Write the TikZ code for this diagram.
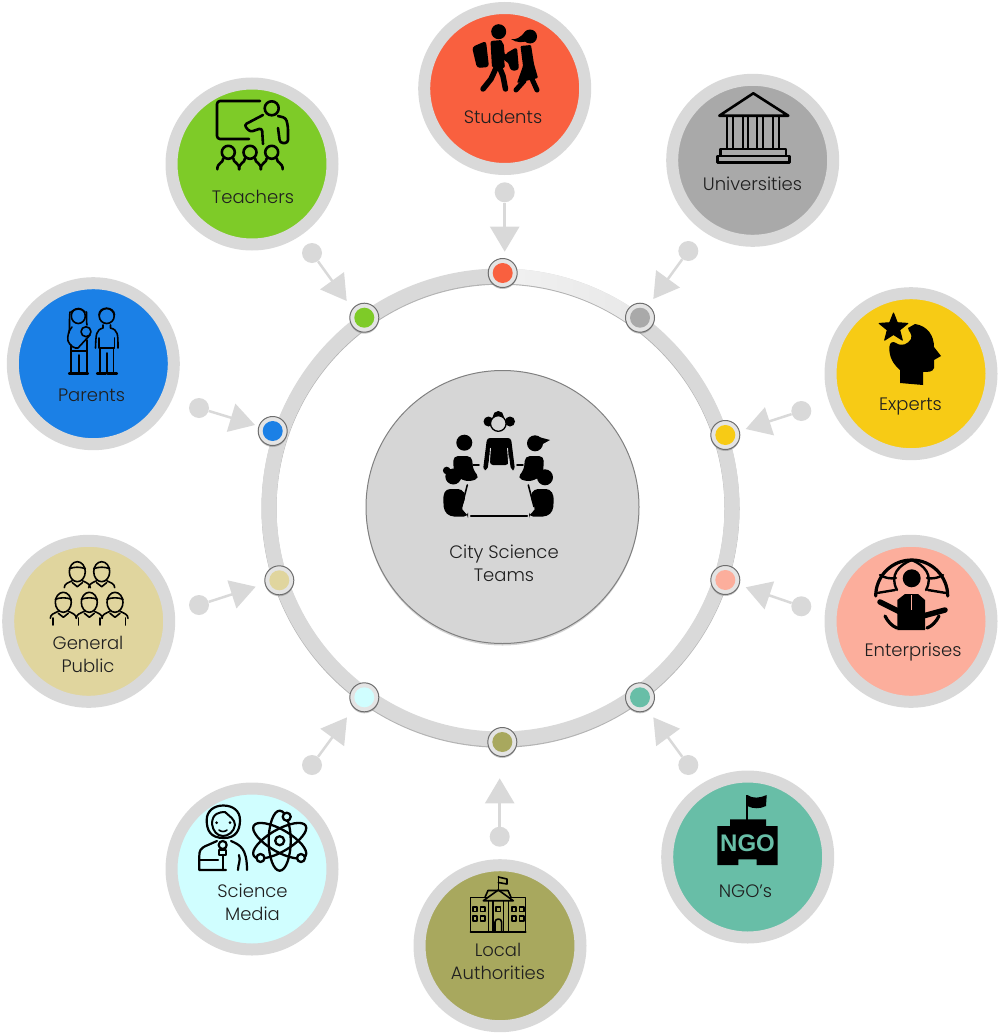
\documentclass[tikz,border=0pt]{standalone}
\usepackage{fontspec}
\setmainfont{Poppins}[UprightFont=* Light]
\newfontfamily\markfont{Liberation Sans}
\usetikzlibrary{arrows.meta}
\usetikzlibrary{shadows}
\definecolor{ringgrey}{HTML}{D9D9D9}
\definecolor{ringpale}{HTML}{F1F1F1}
\definecolor{ringedge}{HTML}{B4B4B4}
\definecolor{hubedge}{HTML}{6E6E6E}
\definecolor{hubgrey}{HTML}{E4E4E4}
\definecolor{studentred}{HTML}{F9603F}
\definecolor{teachergreen}{HTML}{7ECB28}
\definecolor{universitygrey}{HTML}{A9A9A9}
\definecolor{expertyellow}{HTML}{F7CB15}
\definecolor{enterprisesalmon}{HTML}{FCAE9C}
\definecolor{ngoteal}{HTML}{68BEA7}
\definecolor{localolive}{HTML}{A8A85E}
\definecolor{mediacyan}{HTML}{D0FEFF}
\definecolor{publiccream}{HTML}{E0D59E}
\definecolor{parentblue}{HTML}{1B80E6}
\definecolor{teamlight}{HTML}{D6D6D6}
\definecolor{teamdark}{HTML}{C8C8C8}
\definecolor{teamedge}{HTML}{D8D8D8}
\pgfdeclareradialshading{teamshade}{\pgfpointorigin}{color(0bp)=(teamlight);color(26bp)=(teamlight);color(36bp)=(teamdark);color(46bp)=(teamedge);color(50bp)=(teamedge)}
\begin{document}
\begin{tikzpicture}[x=1pt,y=-1pt]
\tikzset{disc/.style={circle,draw=ringgrey,line width=12pt,minimum size=161pt,inner sep=0pt}}
\tikzset{hubring/.style={circle,draw=hubedge,line width=1pt,fill=hubgrey,minimum size=29pt,inner sep=0pt,drop shadow={shadow xshift=0pt,shadow yshift=-1.5pt,opacity=.45}}}
\tikzset{hubcore/.style={circle,minimum size=20pt,inner sep=0pt}}
\tikzset{stub/.style={circle,fill=ringgrey,minimum size=20pt,inner sep=0pt}}
\tikzset{feed/.style={draw=ringgrey,line width=2.5pt,-{Triangle[length=25pt,width=29pt]}}}
\tikzset{caption/.style={align=center,text=black!88,font=\fontsize{18}{23}\selectfont,inner sep=0pt}}
\tikzset{outline/.style={draw=black,line width=2.6pt,line cap=round,line join=round,fill=none}}
\tikzset{thinoutline/.style={outline,line width=1.6pt}}
\tikzset{limb/.style={draw=black,line cap=round,line join=round,line width=5.5pt}}
\tikzset{publicperson/.pic={
        \draw[thinoutline] (0,0) ellipse[x radius=8,y radius=10];
        \draw[thinoutline] (-8,-3) .. controls (-3,-5) and (3,-5) .. (8,-3);
        \draw[thinoutline] (-13,16) .. controls (-13,12) and (-9,11) .. (-5,9);
        \draw[thinoutline] (13,16) .. controls (13,12) and (9,11) .. (5,9);
        \draw[thinoutline] (-5,11) -- (0,15) -- (5,11);
}}
\tikzset{pupil/.pic={
        \draw[outline] (0,0) circle[radius=6.5];
        \draw[outline] (-11,17) .. controls (-11,10) and (-5,11) .. (-5,6);
        \draw[outline] (5,6) .. controls (5,11) and (11,10) .. (11,17);
}}
\useasboundingbox (0,0) rectangle (1001,1036);
        \node[circle,draw=ringedge,line width=15pt,minimum size=463pt,inner sep=0pt] (ringshade) at (500.5,508.7) {};
        \node[circle,draw=ringgrey,line width=15pt,minimum size=463pt,inner sep=0pt] (ring) at (500.5,507.5) {};
        \shade[left color=ringpale,middle color=white!96!black,right color=ringgrey!60!white] (500.5,268.5) arc[start angle=-90,end angle=-54,radius=239] -- (632.2,326.3) arc[start angle=-54,end angle=-90,radius=224] -- cycle;
        \node[circle,draw=black!50,line width=1pt,shade,shading=teamshade,minimum size=273pt,inner sep=0pt,drop shadow={shadow xshift=0pt,shadow yshift=-2pt,opacity=.35}] (team) at (502.5,507) {};
        \node[caption] (capteam) at (504,563) {City Science\\Teams};

        \node[disc,fill=studentred] (students) at (504.7,88.5) {};
        \node[caption] (capstudents) at (503,117) {Students};
        \node[hubring] (hubstudents) at (502.7,273) {};
        \node[hubcore,fill=studentred] (corestudents) at (hubstudents) {};
        \node[stub] (stubstudents) at (504.7,192.3) {};
        \coordinate (tipstudents) at (504.7,251.7);
            \path[feed] (stubstudents) -- (tipstudents);

        \node[disc,fill=teachergreen] (teachers) at (252,164) {};
        \node[caption] (capteachers) at (253,196.5) {Teachers};
        \node[hubring] (hubteachers) at (364.3,317.7) {};
        \node[hubcore,fill=teachergreen] (coreteachers) at (hubteachers) {};
        \node[stub] (stubteachers) at (312,253) {};
        \coordinate (tipteachers) at (346.7,301);
            \path[feed] (stubteachers) -- (tipteachers);

        \node[disc,fill=universitygrey] (universities) at (752.7,160.3) {};
        \node[caption] (capuniversities) at (752.5,183.5) {Universities};
        \node[hubring] (hubuniversities) at (640,317.7) {};
        \node[hubcore,fill=universitygrey] (coreuniversities) at (hubuniversities) {};
        \node[stub] (stubuniversities) at (688.3,251) {};
        \coordinate (tipuniversities) at (653.3,299);
            \path[feed] (stubuniversities) -- (tipuniversities);

        \node[disc,fill=expertyellow] (experts) at (911,373.7) {};
        \node[caption] (capexperts) at (910.5,407) {Experts};
        \node[hubring] (hubexperts) at (725.3,435) {};
        \node[hubcore,fill=expertyellow] (coreexperts) at (hubexperts) {};
        \node[stub] (stubexperts) at (801.3,411) {};
        \coordinate (tipexperts) at (745.7,429);
            \path[feed] (stubexperts) -- (tipexperts);

        \node[disc,fill=enterprisesalmon] (enterprises) at (911,621.3) {};
        \node[caption] (capenterprises) at (913,652) {Enterprises};
        \node[hubring] (hubenterprises) at (725.3,580) {};
        \node[hubcore,fill=enterprisesalmon] (coreenterprises) at (hubenterprises) {};
        \node[stub] (stubenterprises) at (801.3,606.3) {};
        \coordinate (tipenterprises) at (745.7,587.3);
            \path[feed] (stubenterprises) -- (tipenterprises);

        \node[disc,fill=ngoteal] (ngos) at (747.7,857) {};
        \node[caption] (capngos) at (745.5,891.5) {NGO's};
        \node[hubring] (hubngos) at (640,697.3) {};
        \node[hubcore,fill=ngoteal] (corengos) at (hubngos) {};
        \node[stub] (stubngos) at (688.3,765) {};
        \coordinate (tipngos) at (653.3,717.3);
            \path[feed] (stubngos) -- (tipngos);

        \node[disc,fill=localolive] (authorities) at (500,945.7) {};
        \node[caption] (capauthorities) at (498,961.5) {Local\\Authorities};
        \node[hubring] (hubauthorities) at (502.3,742) {};
        \node[hubcore,fill=localolive] (coreauthorities) at (hubauthorities) {};
        \node[stub] (stubauthorities) at (499.7,836.7) {};
        \coordinate (tipauthorities) at (499.7,778.3);
            \path[feed] (stubauthorities) -- (tipauthorities);

        \node[disc,fill=mediacyan] (media) at (252,869) {};
        \node[caption] (capmedia) at (252.5,902.5) {Science\\Media};
        \node[hubring] (hubmedia) at (364.3,697.3) {};
        \node[hubcore,fill=mediacyan] (coremedia) at (hubmedia) {};
        \node[stub] (stubmedia) at (312,765) {};
        \coordinate (tipmedia) at (347,717.3);
            \path[feed] (stubmedia) -- (tipmedia);

        \node[disc,fill=publiccream] (public) at (88.7,621.3) {};
        \node[caption] (cappublic) at (88,654.5) {General\\Public};
        \node[hubring] (hubpublic) at (279.3,580.3) {};
        \node[hubcore,fill=publiccream] (corepublic) at (hubpublic) {};
        \node[stub] (stubpublic) at (199,605) {};
        \coordinate (tippublic) at (255.7,586.7);
            \path[feed] (stubpublic) -- (tippublic);

        \node[disc,fill=parentblue] (parents) at (93.3,363.7) {};
        \node[caption] (capparents) at (91.5,395.5) {Parents};
        \node[hubring] (hubparents) at (272.7,431) {};
        \node[hubcore,fill=parentblue] (coreparents) at (hubparents) {};
        \node[stub] (stubparents) at (199,408) {};
        \coordinate (tipparents) at (255,425);
            \path[feed] (stubparents) -- (tipparents);

        \fill (498.3,422) circle[radius=5.5];
        \fill (488.5,421.5) circle[radius=5];
        \fill (510,421.5) circle[radius=5];
        \fill (498.3,416.5) circle[radius=5.5];
        \fill[teamlight,draw=black,line width=1.3pt] (498.3,423.5) circle[radius=7.8];
        \fill[rounded corners=3] (487,438) -- (511,438) -- (515,470) -- (511,470) -- (508.5,452) -- (508.5,465) -- (490,465) -- (490,452) -- (487.5,470) -- (483,470) -- cycle;
        \draw[teamlight,line width=.9pt] (490.5,448) -- (489,468);
        \draw[teamlight,line width=.9pt] (507.5,448) -- (509,468);
        \fill (464.3,442.7) circle[radius=8];
        \fill[rounded corners=5] (454,476) -- (453,456) -- (472,456) -- (473,470) -- (480,478) -- (468,482) -- cycle;
        \fill (535,443.3) circle[radius=8];
        \fill (535,436) -- (550,440) -- (541,445) -- cycle;
        \fill[rounded corners=5] (543,476) -- (544,456) -- (525,456) -- (524,470) -- (517,478) -- (529,482) -- cycle;
        \draw[thinoutline] (473,465) -- (479,465);
        \draw[thinoutline] (517,465) -- (523,465);
        \fill (453.3,476.5) circle[radius=8];
        \fill (446.7,470.5) circle[radius=3.8];
        \fill[rounded corners=4] (446,489) -- (462,489) -- (466,496) -- (461,510) -- (468,514) -- (468,516.5) -- (450,516.5) -- (444,511) -- (443,496) -- cycle;
        \fill (545,477.3) circle[radius=8];
        \fill[rounded corners=4] (550,489) -- (534,489) -- (530,496) -- (536,510) -- (529,514) -- (529,516.5) -- (547,516.5) -- (553,511) -- (554,496) -- cycle;
        \draw[thinoutline] (470.7,515.7) -- (527.3,515.7);
        \draw[thinoutline] (467.3,485) -- (461.7,506.7);
        \draw[thinoutline] (528.3,485) -- (534,506.7);

        \fill (498.7,31.7) circle[radius=7.5];
        \fill[rounded corners=3] (472,47) -- (486,41) -- (489,67) -- (477,68) -- cycle;
        \fill[rounded corners=2] (490.5,41) -- (502,40) -- (505,68) -- (492,68) -- cycle;
        \draw[limb] (501,45) -- (502,55) -- (510,61);
        \draw[limb] (497,66) -- (491,79) -- (483,89);
        \draw[limb] (499,66) -- (503,76) -- (505.5,89);
        \fill (530,36.5) circle[radius=7];
        \fill (526,31) .. controls (520,38) and (516,40) .. (511,39) .. controls (516,43) and (524,43) .. (530,40) -- cycle;
        \fill[rounded corners=3] (505,54) -- (517,47) -- (519,70) -- (511,71) -- cycle;
        \fill[rounded corners=1] (520.5,46) -- (531,45) -- (534,64) -- (538,78) -- (517,83) -- (523,66) -- cycle;
        \draw[limb,line width=5pt] (524,81) -- (516,90);
        \draw[limb,line width=5pt] (532,79) -- (537,90);

        \draw[outline,rounded corners=3] (260,101) -- (217,101) -- (217,139) -- (249,139);
        \draw[outline] (271.7,108.3) circle[radius=7];
        \draw[outline,rounded corners=3] (263,115) -- (244,125) -- (250,132) -- (262,128) -- (263,144);
        \draw[outline,rounded corners=3] (278,116) -- (286,118) -- (288,127) -- (288,143) -- (280,143) -- (278,128);
        \pic at (228.3,152.3) {pupil};
        \pic at (250,152.3) {pupil};
        \pic at (271.7,152.3) {pupil};

        \draw[outline] (753.3,93.3) -- (719.3,115.7) -- (788.3,115.7) -- cycle;
        \draw[outline,line width=2.2pt] (726.7,116) -- (726.7,148);
        \draw[outline,line width=2.2pt] (733.3,116) -- (733.3,148);
        \draw[outline,line width=2.2pt] (742.7,116) -- (742.7,148);
        \draw[outline,line width=2.2pt] (748.3,116) -- (748.3,148);
        \draw[outline,line width=2.2pt] (757.3,116) -- (757.3,148);
        \draw[outline,line width=2.2pt] (763.3,116) -- (763.3,148);
        \draw[outline,line width=2.2pt] (772.7,116) -- (772.7,148);
        \draw[outline,line width=2.2pt] (779.3,116) -- (779.3,148);
        \draw[outline] (720.7,149) rectangle (786,156);
        \draw[outline] (717.3,156) rectangle (789.3,162.7);

        \fill[draw=black,line width=1pt,line join=round] (893.5,313) -- (897.3,322.7) -- (907.8,323.4) -- (899.7,330) -- (902.3,340.1) -- (893.5,334.5) -- (884.7,340.1) -- (887.3,330) -- (879.2,323.4) -- (889.7,322.7) -- cycle;
        \fill (915,324) .. controls (928,326) and (934,336) .. (934,347) -- (941,356) -- (934,360) -- (934,368) .. controls (933,372) and (928,372) .. (923,372) -- (923,385) -- (900,383) -- (900,370) .. controls (893,364) and (889,357) .. (889.3,347) .. controls (890,342) and (893,341) .. (896,343) .. controls (902,347) and (908,344) .. (911,339) .. controls (913,334) and (908,331) .. (908,328) -- cycle;

        \draw[outline,line width=3.2pt] (875.7,596) arc[start angle=180,end angle=360,radius=36];
        \draw[outline,line width=2.4pt] (877,593) -- (895,590);
        \draw[outline,line width=2.4pt] (946,593) -- (928,590);
        \draw[outline,line width=2.4pt] (897,590) .. controls (889,575) and (899,565) .. (911.7,560);
        \draw[outline,line width=2.4pt] (926,590) .. controls (934,575) and (924,565) .. (911.7,560);
        \draw[outline,line width=2.4pt] (880,575) .. controls (885,578) and (890,579) .. (896,578);
        \draw[outline,line width=2.4pt] (943,575) .. controls (938,578) and (933,579) .. (927,578);
        \draw[outline,line width=3.2pt] (885,616) .. controls (888,622) and (892,626) .. (897,628);
        \draw[outline,line width=3.2pt] (939,616) .. controls (936,622) and (932,626) .. (927,628);
        \fill (911.7,578.3) circle[radius=9];
        \fill (897.3,630) -- (925,630) -- (925,600) -- (918,594) -- (905,594) -- (897.3,600) -- cycle;
        \draw[limb] (900,612) -- (880,602);
        \draw[limb] (923,616) -- (945,610);
        \draw[enterprisesalmon,line width=1pt] (911.7,595) -- (911.7,610);

        \fill (746.3,795) rectangle (748.3,820);
        \fill (747.3,795) .. controls (753,799) and (760,798) .. (766.7,795) -- (766,806) .. controls (760,809) and (753,809) .. (747.3,806) -- cycle;
        \fill (730,819.3) -- (766,819.3) -- (766,826) -- (777.7,826) -- (777.7,865) -- (756.7,865) -- (756.7,859.3) -- (738.3,859.3) -- (738.3,865) -- (717.3,865) -- (717.3,826) -- (730,826) -- cycle;
        \node[text=ngoteal,inner sep=0pt,font=\markfont\bfseries\fontsize{24}{24}\selectfont] (ngomark) at (747.5,843) {NGO};

        \draw[thinoutline,line width=1.5pt] (470.7,897.3) rectangle (525.7,931.7);
        \draw[outline,line width=2pt] (470.7,931.7) -- (525.7,931.7);
        \draw[thinoutline] (498.3,890) -- (498.3,876.7);
        \draw[thinoutline] (498.3,877) -- (507,879) -- (507,884) -- (498.3,882.5);
        \draw[thinoutline,fill=localolive] (483.3,900.7) -- (498.3,890) -- (513.3,900.7) -- cycle;
        \draw[thinoutline] (485,897.3) -- (488,890.5) -- (508,890.5) -- (511,897.3);
        \draw[thinoutline] (488.3,901) -- (488.3,931);
        \draw[thinoutline] (493,901) -- (493,931);
        \draw[thinoutline] (503.6,901) -- (503.6,931);
        \draw[thinoutline] (508.3,901) -- (508.3,931);
        \draw[thinoutline] (472.7,906.7) rectangle (477,911.5);
        \draw[thinoutline] (480.5,906.7) rectangle (484.8,911.5);
        \draw[thinoutline] (472.7,916) rectangle (477,920.8);
        \draw[thinoutline] (480.5,916) rectangle (484.8,920.8);
        \draw[thinoutline] (511.7,906.7) rectangle (516,911.5);
        \draw[thinoutline] (519.5,906.7) rectangle (523.8,911.5);
        \draw[thinoutline] (511.7,916) rectangle (516,920.8);
        \draw[thinoutline] (519.5,916) rectangle (523.8,920.8);
        \draw[thinoutline] (496.2,907) rectangle (500.4,911.5);
        \draw[thinoutline] (495,931) -- (495,922) .. controls (495,918) and (501.6,918) .. (501.6,922) -- (501.6,931);

        \draw[outline,line width=2.2pt] (224,838) .. controls (210,838) and (206.7,830) .. (206.7,820) .. controls (206.7,811) and (214,805.5) .. (223.3,805.5) .. controls (233,805.5) and (240,811) .. (240,820) .. controls (240,830) and (236,838) .. (224,838);
        \draw[outline,line width=2pt] (212,824) .. controls (212,813) and (220,812) .. (225,812) .. controls (229,816) and (235,819) .. (235,825) .. controls (234,832) and (228,836) .. (223,836) .. controls (217,836) and (213,831) .. (212,824);
        \fill (216.7,822.7) circle[radius=1.5];
        \fill (230,822.7) circle[radius=1.5];
        \draw[thinoutline] (219,830) .. controls (221,832) and (225,832) .. (227,830);
        \draw[outline,line width=2.2pt] (217,841) -- (208,845) .. controls (200,848) and (199.3,851) .. (199.3,856) -- (199.3,870) -- (226,870);
        \draw[outline,line width=2.2pt] (231,841) .. controls (240,845) and (247,848) .. (247,870);
        \draw[outline,line width=2.2pt] (200,860) -- (218,860);
        \draw[outline,line width=2.2pt] (238,870) .. controls (238,864) and (241,861) .. (239,855);
        \draw[outline,line width=2.2pt] (222.7,845) circle[radius=4];
        \draw[outline,line width=2.2pt] (219,850) rectangle (226,855);
        \draw[outline,line width=2.2pt] (222.7,855) -- (222.7,870);
        \draw[outline,line width=2.3pt] (279.7,840.7) circle[radius=4.5];
        \draw[outline,line width=2.3pt,rotate around={90:(279.7,840.7)}] (279.7,840.7) ellipse[x radius=30,y radius=11];
        \draw[outline,line width=2.3pt,rotate around={30:(279.7,840.7)}] (279.7,840.7) ellipse[x radius=30,y radius=11];
        \draw[outline,line width=2.3pt,rotate around={-30:(279.7,840.7)}] (279.7,840.7) ellipse[x radius=30,y radius=11];
        \draw[outline,line width=2.3pt,fill=mediacyan] (286.7,816.7) circle[radius=4];
        \draw[outline,line width=2.3pt,fill=mediacyan] (260.5,858) circle[radius=4];
        \draw[outline,line width=2.3pt,fill=mediacyan] (301,858) circle[radius=4];

        \pic at (77.3,571.7) {publicperson};
        \pic at (101.7,571.7) {publicperson};
        \pic at (63.3,602.3) {publicperson};
        \pic at (89.3,602.3) {publicperson};
        \pic at (115,602.3) {publicperson};
        \draw[thinoutline] (53,618) -- (53,625);
        \draw[thinoutline] (78.5,618) -- (78.5,625);
        \draw[thinoutline] (100,618) -- (100,625);
        \draw[thinoutline] (125.5,618) -- (125.5,625);

        \draw[thinoutline,fill=none] (78.3,316) ellipse[x radius=7,y radius=7.5];
        \draw[thinoutline] (70,312) .. controls (69,320) and (70,327) .. (69,333);
        \draw[thinoutline] (86.5,312) .. controls (87,317) and (86,321) .. (87,325);
        \draw[thinoutline] (71,312) .. controls (75,308) and (82,308) .. (85,312);
        \draw[thinoutline] (72,327) .. controls (69,330) and (67,336) .. (68,341) .. controls (70,346) and (75,349) .. (78,348) -- (90,335);
        \draw[thinoutline] (86,331.7) circle[radius=5];
        \draw[thinoutline] (71,345) -- (71,373);
        \draw[thinoutline] (87,340) -- (87,373);
        \draw[thinoutline] (79,355) -- (79,373);
        \draw[thinoutline] (72,351) -- (87,351);
        \draw[outline,line width=2.2pt] (69,373.5) -- (79,373.5);
        \draw[outline,line width=2.2pt] (79,373.5) -- (88,373.5);
        \draw[thinoutline] (106.7,316) circle[radius=7.5];
        \draw[thinoutline] (99,315) .. controls (99,306) and (114,306) .. (114.5,315);
        \draw[thinoutline] (103,325) -- (103,328) .. controls (96,330) and (96,334) .. (95.5,348);
        \draw[thinoutline] (110.5,325) -- (110.5,328) .. controls (118,330) and (118,334) .. (118,348);
        \draw[thinoutline] (99,338) -- (99,348) -- (114.5,348) -- (114.5,338);
        \draw[thinoutline] (100,348) -- (100,373);
        \draw[thinoutline] (113.5,348) -- (113.5,373);
        \draw[thinoutline] (106.7,353) -- (106.7,373);
        \draw[outline,line width=2.2pt] (97,373.5) -- (106,373.5);
        \draw[outline,line width=2.2pt] (107.5,373.5) -- (117,373.5);
\end{tikzpicture}
\end{document}
